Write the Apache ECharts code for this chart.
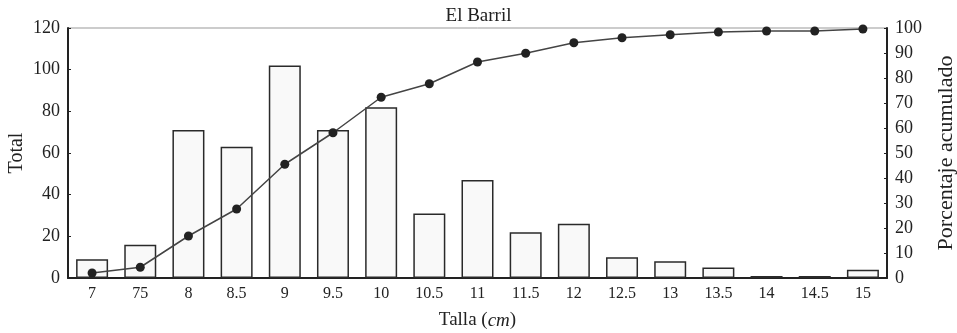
<!DOCTYPE html>
<html><head><meta charset="utf-8">
<script src="https://cdn.jsdelivr.net/npm/echarts@6/dist/echarts.min.js"></script>
<style>html,body{margin:0;padding:0;background:#fff}#c{width:957px;height:333px}</style>
</head><body><div id="c"></div>
<script>
const categories = ['7','75','8','8.5','9','9.5','10','10.5','11','11.5','12','12.5','13','13.5','14','14.5','15'];
const totals = [9,16,71,63,102,71,82,31,47,22,26,10,8,5,1,1,4];
const cumulative = [2,4.3,16.8,27.6,45.5,58.1,72.3,77.7,86.4,89.9,94.1,96.1,97.3,98.4,98.8,98.8,99.6];
const leftTicks = {min:0,max:120,interval:20};
const rightTicks = {min:0,max:100,interval:10};

const F = 'Liberation Serif, Times New Roman, serif';
const chart = echarts.init(document.getElementById('c'));
chart.setOption({
  animation:false,
  backgroundColor:'#fff',
  textStyle:{fontFamily:F,color:'#222'},
  title:{text:'El Barril',left:'center',top:2,textStyle:{fontFamily:F,fontSize:19,fontWeight:'normal',color:'#222'}},
  grid:{left:68,right:70,top:28,bottom:55,containLabel:false,outerBoundsMode:'none',show:true,borderColor:'#999',borderWidth:1,backgroundColor:'transparent'},
  xAxis:{type:'category',data:categories,
    name:'{n|Talla (}{i|cm}{n|)}',nameLocation:'middle',nameGap:33,
    nameTextStyle:{rich:{n:{fontFamily:F,fontSize:19,color:'#222'},i:{fontFamily:F,fontSize:19,fontStyle:'italic',color:'#222'}}},
    axisLine:{lineStyle:{color:'#222',width:2}},
    axisTick:{inside:true,length:3,lineStyle:{color:'#222'}},
    axisLabel:{fontFamily:F,fontSize:16,color:'#222',margin:8}},
  yAxis:[
    {type:'value',min:leftTicks.min,max:leftTicks.max,interval:leftTicks.interval,
     name:'Total',nameLocation:'middle',nameGap:41,nameRotate:90,nameMoveOverlap:false,
     nameTextStyle:{fontFamily:F,fontSize:20,color:'#222'},
     axisLine:{show:true,lineStyle:{color:'#222',width:2}},
     axisTick:{show:true,inside:true,length:3,lineStyle:{color:'#222'}},
     axisLabel:{fontFamily:F,fontSize:18,color:'#222',margin:8},
     splitLine:{show:false}},
    {type:'value',position:'right',min:rightTicks.min,max:rightTicks.max,interval:rightTicks.interval,
     name:'Porcentaje acumulado',nameLocation:'middle',nameGap:48,nameRotate:90,
     nameTextStyle:{fontFamily:F,fontSize:22,color:'#222'},
     axisLine:{show:true,lineStyle:{color:'#222',width:2}},
     axisTick:{show:true,inside:true,length:3,lineStyle:{color:'#222'}},
     axisLabel:{fontFamily:F,fontSize:18,color:'#222',margin:8},
     splitLine:{show:false}}
  ],
  series:[
    {type:'bar',data:totals,yAxisIndex:0,barWidth:32,
     itemStyle:{color:'#f9f9f9',borderColor:'#2a2a2a',borderWidth:1.5}},
    {type:'line',data:cumulative,yAxisIndex:1,symbol:'circle',symbolSize:9,
     lineStyle:{color:'#444',width:1.5},itemStyle:{color:'#222'}}
  ]
});
</script></body></html>
